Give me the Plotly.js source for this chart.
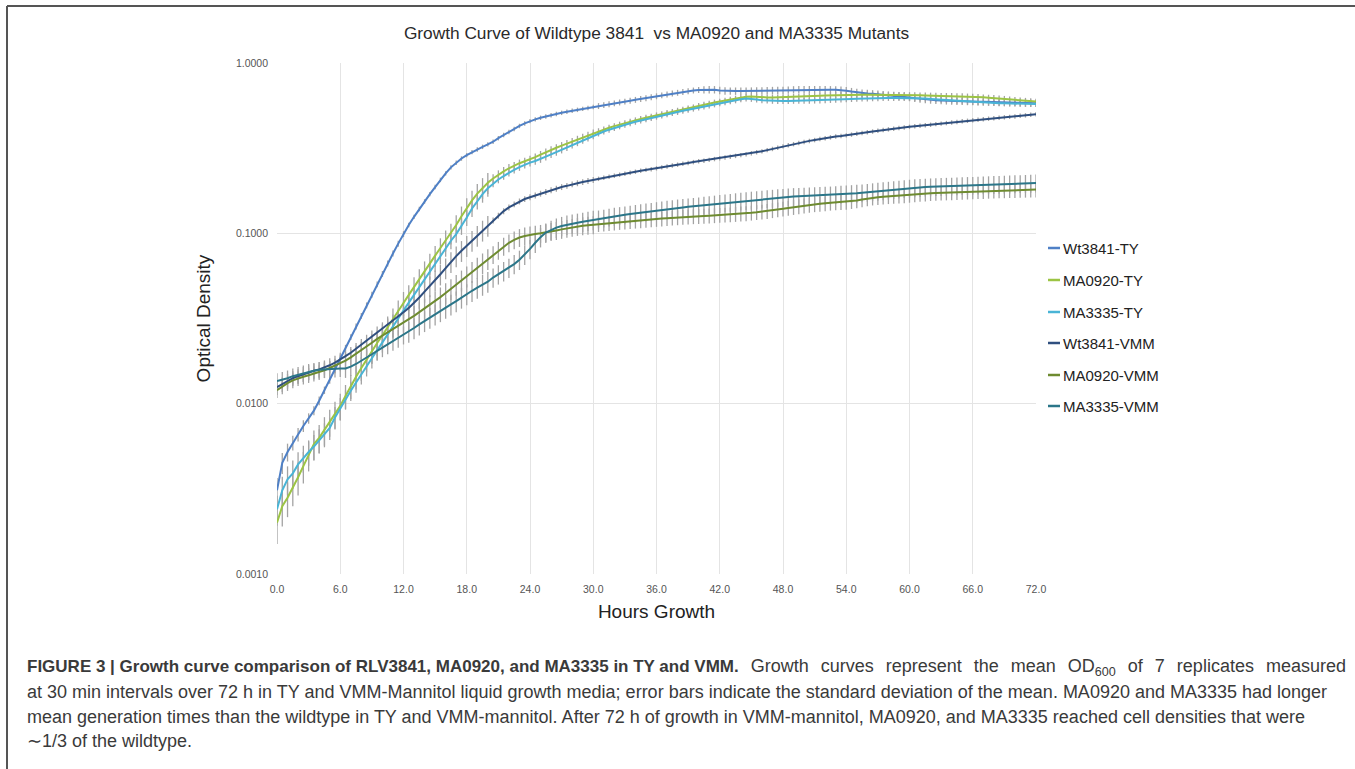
<!DOCTYPE html>
<html>
<head>
<meta charset="utf-8">
<script src="https://cdn.plot.ly/plotly-3.0.1.min.js"></script>
<style>html,body{margin:0;padding:0;background:#fff;}#chart{width:1355px;height:769px;}</style>
</head>
<body>
<div id="chart"></div>
<script>
// ---- Data ----
const hours = [0,0.5,1,1.5,2,2.5,3,3.5,4,4.5,5,5.5,6,6.5,7,7.5,8,8.5,9,9.5,10,10.5,11,11.5,12,12.5,13,13.5,14,14.5,15,15.5,16,16.5,17,17.5,18,18.5,19,19.5,20,20.5,21,21.5,22,22.5,23,23.5,24,24.5,25,25.5,26,26.5,27,27.5,28,28.5,29,29.5,30,30.5,31,31.5,32,32.5,33,33.5,34,34.5,35,35.5,36,36.5,37,37.5,38,38.5,39,39.5,40,40.5,41,41.5,42,42.5,43,43.5,44,44.5,45,45.5,46,46.5,47,47.5,48,48.5,49,49.5,50,50.5,51,51.5,52,52.5,53,53.5,54,54.5,55,55.5,56,56.5,57,57.5,58,58.5,59,59.5,60,60.5,61,61.5,62,62.5,63,63.5,64,64.5,65,65.5,66,66.5,67,67.5,68,68.5,69,69.5,70,70.5,71,71.5,72];

const seriesNames = ["Wt3841-TY","MA0920-TY","MA3335-TY","Wt3841-VMM","MA0920-VMM","MA3335-VMM"];

const wt3841TY = [0.0031,0.0045,0.0052,0.0059,0.0066,0.0074,0.0082,0.0091,0.0104,0.0120,0.0138,0.0160,0.0185,
0.0213,0.0246,0.0284,0.0328,0.0378,0.0436,0.0502,0.0578,0.0665,0.0762,0.0870,0.0990,
0.112,0.125,0.139,0.154,0.170,0.187,0.206,0.225,0.244,0.260,0.275,0.288,0.300,0.311,0.322,0.333,
0.345,0.362,0.378,0.394,0.410,0.427,0.442,0.456,0.467,0.477,0.486,0.494,0.502,0.510,0.517,0.524,0.531,0.538,0.545,0.552,
0.559,0.566,0.573,0.580,0.587,0.594,0.601,0.608,0.615,0.622,0.630,0.638,0.646,0.654,0.662,0.669,0.676,0.683,0.690,0.694,
0.696,0.697,0.697,0.690,0.686,0.685,0.684,0.684,0.685,0.685,0.686,0.687,0.688,0.690,0.690,0.692,0.694,0.696,0.697,0.697,
0.698,0.698,0.698,0.698,0.697,0.696,0.693,0.688,0.680,0.672,0.666,0.663,0.660,0.656,0.652,0.648,0.645,0.641,0.637,0.628,
0.622,0.616,0.611,0.607,0.604,0.602,0.600,0.598,0.597,0.596,0.595,0.594,0.593,0.592,0.591,0.590,0.589,0.588,0.587,0.586,0.585,0.583,0.582,0.580];

const ma0920TY = [0.0020,0.0025,0.0028,0.0032,0.0037,0.0043,0.0050,0.0058,0.0063,0.0070,0.0078,0.0087,0.0097,
0.0111,0.0127,0.0144,0.0162,0.0182,0.0204,0.0227,0.0252,0.0280,0.0312,0.0348,0.0390,
0.0435,0.0485,0.0540,0.0600,0.0665,0.0740,0.0820,0.0910,0.100,0.112,0.126,0.141,0.156,0.171,0.185,0.198,
0.210,0.221,0.231,0.241,0.250,0.258,0.265,0.272,0.280,0.290,0.300,0.309,0.318,0.327,0.336,0.346,0.356,0.366,0.376,0.388,
0.398,0.408,0.417,0.426,0.435,0.444,0.453,0.461,0.469,0.477,0.485,0.493,0.501,0.509,0.517,0.525,0.533,0.541,0.549,0.560,
0.570,0.578,0.586,0.594,0.602,0.610,0.618,0.626,0.634,0.636,0.632,0.629,0.628,0.628,0.629,0.630,0.631,0.632,0.634,0.636,
0.638,0.640,0.642,0.644,0.646,0.648,0.649,0.650,0.651,0.651,0.652,0.652,0.652,0.652,0.651,0.651,0.650,0.650,0.649,0.648,
0.647,0.646,0.645,0.644,0.643,0.642,0.641,0.640,0.639,0.638,0.636,0.634,0.632,0.629,0.626,0.623,0.620,0.616,0.612,0.608,0.604,0.600,0.597,0.594];

const ma3335TY = [0.0024,0.0031,0.0036,0.0039,0.0044,0.0048,0.0052,0.0056,0.0061,0.0066,0.0072,0.0083,0.0094,
0.0106,0.0119,0.0133,0.0149,0.0166,0.0185,0.0206,0.0229,0.0254,0.0283,0.0316,0.0352,
0.0392,0.0436,0.0485,0.0540,0.0600,0.0667,0.0740,0.0820,0.0905,0.0990,0.110,0.124,0.140,0.155,0.170,0.184,
0.196,0.207,0.217,0.227,0.236,0.245,0.253,0.260,0.266,0.273,0.282,0.291,0.300,0.310,0.320,0.331,0.342,0.353,0.364,0.375,
0.386,0.396,0.406,0.416,0.425,0.434,0.443,0.452,0.460,0.468,0.476,0.484,0.492,0.500,0.508,0.516,0.524,0.532,0.540,0.548,
0.556,0.564,0.572,0.580,0.588,0.596,0.604,0.612,0.618,0.616,0.610,0.605,0.602,0.600,0.599,0.599,0.599,0.600,0.600,0.600,
0.601,0.602,0.603,0.605,0.607,0.609,0.611,0.613,0.615,0.617,0.619,0.620,0.621,0.622,0.623,0.624,0.624,0.624,0.624,0.623,
0.622,0.620,0.618,0.615,0.612,0.609,0.606,0.603,0.600,0.597,0.594,0.591,0.589,0.587,0.585,0.583,0.581,0.580,0.579,0.578,0.577,0.576,0.575,0.574];

const wt3841VMM = [0.0125,0.0130,0.0136,0.0141,0.0145,0.0149,0.0153,0.0156,0.0159,0.0163,0.0168,0.0174,0.0181,
0.0190,0.0199,0.0210,0.0222,0.0235,0.0249,0.0263,0.0278,0.0293,0.0309,0.0326,0.0344,
0.0365,0.0390,0.0420,0.0455,0.0490,0.0530,0.0575,0.0625,0.0680,0.0735,0.0790,0.0845,0.0905,0.0970,0.104,0.111,
0.119,0.127,0.135,0.142,0.148,0.154,0.159,0.163,0.167,0.171,0.175,0.179,0.183,0.187,0.190,0.194,0.197,0.200,0.203,0.206,
0.209,0.212,0.215,0.218,0.221,0.224,0.227,0.230,0.233,0.236,0.238,0.241,0.244,0.247,0.250,0.253,0.256,0.259,0.262,0.265,
0.267,0.270,0.273,0.276,0.279,0.282,0.285,0.288,0.291,0.295,0.299,0.303,0.308,0.313,0.318,0.324,0.329,0.334,0.339,0.344,
0.349,0.353,0.358,0.362,0.366,0.370,0.373,0.376,0.380,0.384,0.388,0.392,0.396,0.400,0.404,0.408,0.411,0.415,0.418,0.422,
0.425,0.428,0.431,0.434,0.438,0.441,0.444,0.448,0.451,0.455,0.458,0.462,0.465,0.468,0.471,0.474,0.477,0.480,0.483,0.486,0.490,0.493,0.497,0.500];

const ma0920VMM = [0.0120,0.0126,0.0132,0.0137,0.0141,0.0144,0.0147,0.0150,0.0153,0.0157,0.0162,0.0167,0.0172,
0.0179,0.0187,0.0196,0.0206,0.0217,0.0228,0.0240,0.0251,0.0262,0.0274,0.0286,0.0298,
0.0312,0.0328,0.0345,0.0362,0.0380,0.0400,0.0422,0.0446,0.0472,0.0500,0.0530,0.0560,0.0595,0.0630,0.0668,0.0708,
0.0750,0.0795,0.0840,0.0880,0.0915,0.0945,0.0965,0.0980,0.0990,0.1000,0.1010,0.1025,0.1040,0.1055,0.1070,0.1085,0.1098,0.1108,0.1116,0.1124,
0.1132,0.1140,0.1148,0.1156,0.1164,0.1171,0.1178,0.1185,0.1192,0.1199,0.1206,0.1213,0.1220,0.1227,0.1234,0.1240,0.1246,0.1252,0.1258,0.1262,
0.1266,0.1270,0.1275,0.1280,0.1285,0.1290,0.1297,0.1305,0.1310,0.1320,0.1330,0.1340,0.1350,0.1365,0.1380,0.1395,0.1410,0.1425,0.1440,0.1455,
0.1470,0.1480,0.1490,0.1500,0.1510,0.1520,0.1525,0.1530,0.1545,0.1560,0.1580,0.1600,0.1620,0.1630,0.1640,0.1650,0.1660,0.1665,0.1670,0.1680,
0.1690,0.1700,0.1710,0.1720,0.1725,0.1730,0.1735,0.1740,0.1745,0.1750,0.1755,0.1760,0.1765,0.1770,0.1775,0.1780,0.1783,0.1786,0.1790,0.1793,0.1796,0.1800,0.1803,0.1806];

const ma3335VMM = [0.0136,0.0138,0.0141,0.0145,0.0148,0.0151,0.0154,0.0156,0.0158,0.0159,0.0160,0.0160,0.0161,
0.0161,0.0165,0.0171,0.0178,0.0186,0.0195,0.0204,0.0213,0.0222,0.0232,0.0242,0.0253,
0.0265,0.0278,0.0292,0.0306,0.0320,0.0335,0.0350,0.0366,0.0383,0.0400,0.0420,0.0440,0.0460,0.0480,0.0500,0.0520,
0.0550,0.0575,0.0600,0.0628,0.0660,0.0700,0.0750,0.0810,0.0880,0.0950,0.1010,0.1050,0.1080,0.1105,0.1125,0.1140,0.1155,0.1170,0.1185,0.1200,
0.1215,0.1230,0.1245,0.1260,0.1272,0.1285,0.1297,0.1310,0.1322,0.1335,0.1347,0.1360,0.1372,0.1385,0.1397,0.1410,0.1420,0.1430,0.1440,0.1450,
0.1462,0.1474,0.1486,0.1498,0.1510,0.1522,0.1534,0.1546,0.1558,0.1568,0.1578,0.1588,0.1598,0.1608,0.1618,0.1628,0.1638,0.1645,0.1650,0.1655,
0.1660,0.1665,0.1670,0.1675,0.1680,0.1688,0.1696,0.1704,0.1712,0.1720,0.1730,0.1742,0.1755,0.1768,0.1780,0.1792,0.1805,0.1818,0.1830,0.1842,
0.1852,0.1860,0.1868,0.1875,0.1880,0.1885,0.1890,0.1895,0.1900,0.1905,0.1910,0.1915,0.1920,0.1925,0.1930,0.1935,0.1940,0.1945,0.1950,0.1955,0.1960,0.1965,0.1970,0.1975];

// standard deviation, as percent of the mean at each time point
const sdPctWt3841TY = [18,14,12,10,9,8,7,6,6,5,5,5,5,
4,4,4,4,4,4,4,4,4,4,4,4,
3,3,3,3,3,3,3,3,3,3,3,3,3,3,3,3,
3,3,3,3,3,3,3,3,3,3,3,3,3,3,3,3,3,3,3,3,
4,4,4,4,4,4,4,4,4,4,4,4,4,4,4,4,4,4,4,4,
5,5,5,5,5,5,5,5,5,5,5,5,5,5,5,5,5,5,5,5,
5,5,5,5,5,5,5,5,5,5,5,5,5,5,5,5,5,5,5,5,
5,5,5,5,5,5,5,5,5,5,5,5,5,5,5,5,5,5,5,5,5,5,5,5];
const sdPctMA0920TY = [25,24,23,22,22,21,20,20,19,19,18,18,18,
16,16,16,16,16,16,16,16,16,16,16,16,
14,14,14,14,14,14,14,14,14,14,14,14,14,14,14,14,
6,6,6,6,5,5,5,5,5,5,5,5,5,5,5,5,5,5,5,5,
4,4,4,4,4,4,4,4,4,4,4,4,4,4,4,4,4,4,4,4,
4,4,4,4,4,4,4,4,4,4,4,4,4,4,4,4,4,4,4,4,
4,4,4,4,4,4,4,4,4,4,4,4,4,4,4,4,4,4,4,4,
4,4,4,4,4,4,4,4,4,4,4,4,4,4,4,4,4,4,4,4,4,4,4,4];
const sdPctMA3335TY = [20,20,19,19,18,18,17,17,16,16,15,15,15,
13,13,13,13,13,13,13,13,13,13,13,13,
11,11,11,11,11,11,11,11,11,11,11,11,11,11,11,11,
5,5,5,5,5,5,5,5,5,5,5,5,5,5,5,5,5,5,5,5,
4,4,4,4,4,4,4,4,4,4,4,4,4,4,4,4,4,4,4,4,
4,4,4,4,4,4,4,4,4,4,4,4,4,4,4,4,4,4,4,4,
4,4,4,4,4,4,4,4,4,4,4,4,4,4,4,4,4,4,4,4,
4,4,4,4,4,4,4,4,4,4,4,4,4,4,4,4,4,4,4,4,4,4,4,4];
const sdPctWt3841VMM = [10,10,10,10,10,10,10,10,10,10,10,10,10,
8,8,8,8,8,8,8,8,8,8,8,8,
14,14,14,14,14,14,14,14,14,14,14,14,14,14,14,14,
4,4,4,4,4,4,4,4,4,4,4,4,4,4,4,4,4,4,4,4,
3,3,3,3,3,3,3,3,3,3,3,3,3,3,3,3,3,3,3,3,
3,3,3,3,3,3,3,3,3,3,3,3,3,3,3,3,3,3,3,3,
3,3,3,3,3,3,3,3,3,3,3,3,3,3,3,3,3,3,3,3,
3,3,3,3,3,3,3,3,3,3,3,3,3,3,3,3,3,3,3,3,3,3,3,3];
const sdPctMA0920VMM = [10,10,10,10,10,10,10,10,10,10,10,10,10,
12,12,12,12,12,12,12,12,12,12,12,12,
14,14,14,14,14,14,14,14,14,14,14,14,14,14,14,14,
12,12,12,12,12,12,12,12,12,12,12,12,12,12,12,12,12,12,12,12,
10,10,10,10,10,10,10,10,10,10,10,10,10,10,10,10,10,10,10,10,
10,10,10,10,10,10,10,10,10,10,10,10,10,10,10,10,10,10,10,10,
10,10,10,10,10,10,10,10,10,10,10,10,10,10,10,10,10,10,10,10,
10,10,10,10,10,10,10,10,10,10,10,10,10,10,10,10,10,10,10,10,10,10,10,10];
const sdPctMA3335VMM = [11,11,11,11,11,11,11,11,11,11,11,11,11,
12,12,12,12,12,12,12,12,12,12,12,12,
14,14,14,14,14,14,14,14,14,14,14,14,14,14,14,14,
13,13,13,13,13,13,13,13,13,13,13,13,13,13,13,13,13,13,13,13,
12,12,12,12,12,12,12,12,12,12,12,12,12,12,12,12,12,12,12,12,
12,12,12,12,12,12,12,12,12,12,12,12,12,12,12,12,12,12,12,12,
12,12,12,12,12,12,12,12,12,12,12,12,12,12,12,12,12,12,12,12,
12,12,12,12,12,12,12,12,12,12,12,12,12,12,12,12,12,12,12,12,12,12,12,12];

const yTickVals = [0.001, 0.01, 0.1, 1];
const yTickText = ["0.0010", "0.0100", "0.1000", "1.0000"];

const seriesColors = ["#4f80c6", "#9cc444", "#49b4d6", "#2f4f7f", "#6e8b30", "#2b7689"];

const captionLines = [
  "<span style=\"font-size:17px\"><b>FIGURE 3 | Growth curve comparison of RLV3841, MA0920, and MA3335 in TY and VMM.</b></span><span style=\"word-spacing:7px\"> Growth curves represent the mean OD<sub>600</sub> of 7 replicates measured</span>",
  "at 30 min intervals over 72 h in TY and VMM-Mannitol liquid growth media; error bars indicate the standard deviation of the mean. MA0920 and MA3335 had longer",
  "mean generation times than the wildtype in TY and VMM-mannitol. After 72 h of growth in VMM-mannitol, MA0920, and MA3335 reached cell densities that were",
  "\u223C1/3 of the wildtype."
];

// ---- Build traces ----
const means = [wt3841TY, ma0920TY, ma3335TY, wt3841VMM, ma0920VMM, ma3335VMM];
const sdPct = [sdPctWt3841TY, sdPctMA0920TY, sdPctMA3335TY, sdPctWt3841VMM, sdPctMA0920VMM, sdPctMA3335VMM];

const FONT = "Liberation Sans, Arial, Helvetica, sans-serif";
const traces = [];
// error bars first so that the mean lines sit on top
means.forEach((m, i) => {
  traces.push({
    x: hours, y: m, type: "scatter", mode: "lines",
    line: {color: "rgba(0,0,0,0)", width: 0},
    error_y: {type: "data", array: m.map((v, k) => v * sdPct[i][k] / 100), visible: true,
              color: "#a3a3a3", thickness: 1.3, width: 0},
    showlegend: false, hoverinfo: "skip"
  });
});
means.forEach((m, i) => {
  traces.push({
    x: hours, y: m, type: "scatter", mode: "lines", name: seriesNames[i],
    line: {color: seriesColors[i], width: 2}, showlegend: false
  });
});

// plot-area geometry (pixels) used to place legend / caption in paper units
const L = 277, R = 1036, T = 63, B = 574;
const px = x => (x - L) / (R - L);
const py = y => (B - y) / (B - T);

const legendY = [248, 280, 312, 343, 375, 406];
const shapes = [];
const annotations = [];
seriesNames.forEach((n, i) => {
  shapes.push({type: "line", xref: "paper", yref: "paper",
    x0: px(1048), x1: px(1060), y0: py(legendY[i]), y1: py(legendY[i]),
    line: {color: seriesColors[i], width: 2.5}});
  annotations.push({xref: "paper", yref: "paper", x: px(1061), y: py(legendY[i]),
    xanchor: "left", yanchor: "middle", showarrow: false, text: n,
    font: {family: FONT, size: 15, color: "#222"}});
});
const captionY = [667, 692, 717, 741];
captionLines.forEach((t, i) => {
  annotations.push({xref: "paper", yref: "paper", x: px(25), y: py(captionY[i]),
    xanchor: "left", yanchor: "middle", showarrow: false, text: t, align: "left",
    font: {family: FONT, size: 18, color: "#3a3a3a"}});
});
// frame (top and left edges)
shapes.push({type: "line", xref: "paper", yref: "paper", x0: px(7), x1: px(1356), y0: py(6), y1: py(6), line: {color: "#555", width: 2}});
shapes.push({type: "line", xref: "paper", yref: "paper", x0: px(7), x1: px(7), y0: py(6), y1: py(770), line: {color: "#555", width: 2}});

const layout = {
  width: 1355, height: 769, autosize: false,
  margin: {l: L, r: 1355 - R, t: T, b: 769 - B, pad: 0},
  paper_bgcolor: "#fff", plot_bgcolor: "#fff",
  font: {family: FONT, color: "#333"},
  title: {text: "Growth Curve of Wildtype 3841  vs MA0920 and MA3335 Mutants",
          x: 0.5, xref: "paper", y: 1 - 33 / 769, yref: "container", yanchor: "middle",
          font: {family: FONT, size: 17.3, color: "#2a2a2a"}},
  xaxis: {range: [0, 72], tick0: 0, dtick: 6, tickformat: ".1f",
          showgrid: true, gridcolor: "#e4e4e4", gridwidth: 1, zeroline: false, showline: false,
          ticks: "", ticklabelstandoff: 7, tickfont: {family: FONT, size: 10.5, color: "#555"},
          title: {text: "Hours Growth", standoff: 11, font: {family: FONT, size: 19, color: "#222"}},
          automargin: false, fixedrange: true},
  yaxis: {type: "log", range: [-3, 0], tickvals: yTickVals, ticktext: yTickText,
          showgrid: true, gridcolor: "#e4e4e4", gridwidth: 1, zeroline: false, showline: false,
          ticks: "", ticklabelstandoff: 8, tickfont: {family: FONT, size: 10.5, color: "#555"},
          title: {text: "Optical Density", standoff: 20, font: {family: FONT, size: 19, color: "#222"}},
          automargin: false, fixedrange: true},
  showlegend: false,
  shapes: shapes,
  annotations: annotations
};

Plotly.newPlot("chart", traces, layout, {displayModeBar: false, staticPlot: true});
</script>
</body>
</html>
